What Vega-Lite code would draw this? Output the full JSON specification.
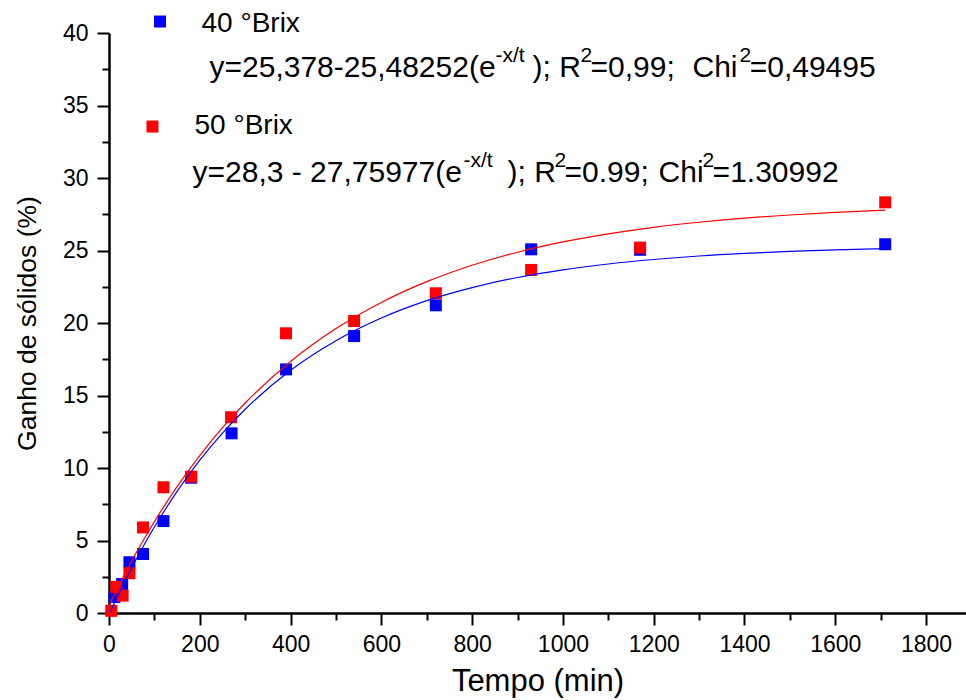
{
  "$schema": "https://vega.github.io/schema/vega-lite/v6.json",
  "width": 857,
  "height": 580,
  "autosize": {"type": "none"},
  "padding": {"left": 109, "top": 33, "right": 0, "bottom": 87},
  "background": "white",
  "config": {"view": {"stroke": null}, "font": "Liberation Sans"},
  "datasets": {
    "points": [
      {"serie": "40 °Brix", "t": 12, "g": 1.1},
      {"serie": "40 °Brix", "t": 29, "g": 2.0},
      {"serie": "40 °Brix", "t": 45, "g": 3.5},
      {"serie": "40 °Brix", "t": 75, "g": 4.07},
      {"serie": "40 °Brix", "t": 120, "g": 6.34},
      {"serie": "40 °Brix", "t": 181, "g": 9.33},
      {"serie": "40 °Brix", "t": 270, "g": 12.39},
      {"serie": "40 °Brix", "t": 390, "g": 16.8},
      {"serie": "40 °Brix", "t": 540, "g": 19.1},
      {"serie": "40 °Brix", "t": 720, "g": 21.22},
      {"serie": "40 °Brix", "t": 930, "g": 25.08},
      {"serie": "40 °Brix", "t": 1170, "g": 25.05},
      {"serie": "40 °Brix", "t": 1710, "g": 25.43},
      {"serie": "50 °Brix", "t": 5, "g": 0.15},
      {"serie": "50 °Brix", "t": 16, "g": 1.8},
      {"serie": "50 °Brix", "t": 30, "g": 1.2},
      {"serie": "50 °Brix", "t": 45, "g": 2.74},
      {"serie": "50 °Brix", "t": 75, "g": 5.9},
      {"serie": "50 °Brix", "t": 120, "g": 8.67},
      {"serie": "50 °Brix", "t": 181, "g": 9.4},
      {"serie": "50 °Brix", "t": 269, "g": 13.5},
      {"serie": "50 °Brix", "t": 390, "g": 19.29},
      {"serie": "50 °Brix", "t": 540, "g": 20.14},
      {"serie": "50 °Brix", "t": 720, "g": 22.05},
      {"serie": "50 °Brix", "t": 930, "g": 23.66},
      {"serie": "50 °Brix", "t": 1170, "g": 25.2},
      {"serie": "50 °Brix", "t": 1710, "g": 28.32}
    ],
    "curves": [
      {"serie": "40 °Brix", "t": 3, "g": 0.1},
      {"serie": "40 °Brix", "t": 25, "g": 1.56},
      {"serie": "40 °Brix", "t": 50, "g": 3.12},
      {"serie": "40 °Brix", "t": 75, "g": 4.57},
      {"serie": "40 °Brix", "t": 100, "g": 5.93},
      {"serie": "40 °Brix", "t": 150, "g": 8.39},
      {"serie": "40 °Brix", "t": 200, "g": 10.54},
      {"serie": "40 °Brix", "t": 250, "g": 12.41},
      {"serie": "40 °Brix", "t": 300, "g": 14.05},
      {"serie": "40 °Brix", "t": 400, "g": 16.74},
      {"serie": "40 °Brix", "t": 500, "g": 18.78},
      {"serie": "40 °Brix", "t": 600, "g": 20.34},
      {"serie": "40 °Brix", "t": 700, "g": 21.54},
      {"serie": "40 °Brix", "t": 800, "g": 22.44},
      {"serie": "40 °Brix", "t": 900, "g": 23.14},
      {"serie": "40 °Brix", "t": 1000, "g": 23.67},
      {"serie": "40 °Brix", "t": 1100, "g": 24.07},
      {"serie": "40 °Brix", "t": 1200, "g": 24.38},
      {"serie": "40 °Brix", "t": 1300, "g": 24.62},
      {"serie": "40 °Brix", "t": 1400, "g": 24.8},
      {"serie": "40 °Brix", "t": 1500, "g": 24.94},
      {"serie": "40 °Brix", "t": 1600, "g": 25.04},
      {"serie": "40 °Brix", "t": 1710, "g": 25.13},
      {"serie": "50 °Brix", "t": 0, "g": 0.54},
      {"serie": "50 °Brix", "t": 25, "g": 2.11},
      {"serie": "50 °Brix", "t": 50, "g": 3.59},
      {"serie": "50 °Brix", "t": 75, "g": 4.98},
      {"serie": "50 °Brix", "t": 100, "g": 6.3},
      {"serie": "50 °Brix", "t": 150, "g": 8.72},
      {"serie": "50 °Brix", "t": 200, "g": 10.86},
      {"serie": "50 °Brix", "t": 250, "g": 12.78},
      {"serie": "50 °Brix", "t": 300, "g": 14.48},
      {"serie": "50 °Brix", "t": 400, "g": 17.35},
      {"serie": "50 °Brix", "t": 500, "g": 19.62},
      {"serie": "50 °Brix", "t": 600, "g": 21.42},
      {"serie": "50 °Brix", "t": 700, "g": 22.85},
      {"serie": "50 °Brix", "t": 800, "g": 23.98},
      {"serie": "50 °Brix", "t": 900, "g": 24.88},
      {"serie": "50 °Brix", "t": 1000, "g": 25.59},
      {"serie": "50 °Brix", "t": 1100, "g": 26.15},
      {"serie": "50 °Brix", "t": 1200, "g": 26.6},
      {"serie": "50 °Brix", "t": 1300, "g": 26.95},
      {"serie": "50 °Brix", "t": 1400, "g": 27.23},
      {"serie": "50 °Brix", "t": 1500, "g": 27.45},
      {"serie": "50 °Brix", "t": 1600, "g": 27.63},
      {"serie": "50 °Brix", "t": 1710, "g": 27.78}
    ],
    "legend": [
      {"serie": "40 °Brix", "t": 112.4, "g": 40.79},
      {"serie": "50 °Brix", "t": 95.8, "g": 33.55}
    ],
    "legendLabels": [
      {"t": 203.8, "g": 40.07, "txt": "40  °Brix"},
      {"t": 188.4, "g": 33.03, "txt": "50  °Brix"}
    ],
    "labels": [
      {"t": 221.4, "g": 36.97, "txt": "y=25,378-25,48252(e"},
      {"t": 933.0, "g": 36.97, "txt": "); R"},
      {"t": 1060.8, "g": 36.97, "txt": "=0,99;"},
      {"t": 1285.5, "g": 36.97, "txt": "Chi"},
      {"t": 1411.5, "g": 36.97, "txt": "=0,49495"},
      {"t": 184.0, "g": 29.72, "txt": "y=28,3 - 27,75977(e"},
      {"t": 878.0, "g": 29.72, "txt": "); R"},
      {"t": 1003.6, "g": 29.72, "txt": "=0.99;"},
      {"t": 1210.7, "g": 29.72, "txt": "Chi"},
      {"t": 1329.8, "g": 29.72, "txt": "=1.30992"}
    ],
    "sups": [
      {"t": 851.5, "g": 38.0, "txt": "-x/t"},
      {"t": 1038.8, "g": 38.0, "txt": "2"},
      {"t": 1389.0, "g": 38.0, "txt": "2"},
      {"t": 781.0, "g": 30.76, "txt": "-x/t"},
      {"t": 981.6, "g": 30.76, "txt": "2"},
      {"t": 1307.7, "g": 30.76, "txt": "2"}
    ]
  },
  "encoding": {
    "x": {
      "field": "t",
      "type": "quantitative",
      "scale": {"domain": [0, 1888], "nice": false, "zero": false},
      "axis": {
        "values": [0, 100, 200, 300, 400, 500, 600, 700, 800, 900, 1000, 1100, 1200, 1300, 1400, 1500, 1600, 1700, 1800],
        "format": "d",
        "labelExpr": "datum.value % 200 === 0 ? datum.label : ''",
        "tickSize": {"condition": {"test": "datum.value % 200 === 0", "value": 12}, "value": 7},
        "tickWidth": 2,
        "tickColor": "black",
        "domainWidth": 2.5,
        "domainColor": "black",
        "grid": false,
        "labelFontSize": 23,
        "labelColor": "black",
        "labelPadding": 8,
        "labelFlush": false,
        "title": "Tempo (min)",
        "titleFontSize": 31,
        "titleFontWeight": "normal",
        "titleColor": "black",
        "titlePadding": 10
      }
    },
    "y": {
      "field": "g",
      "type": "quantitative",
      "scale": {"domain": [0, 40], "nice": false},
      "axis": {
        "values": [0, 2.5, 5, 7.5, 10, 12.5, 15, 17.5, 20, 22.5, 25, 27.5, 30, 32.5, 35, 37.5, 40],
        "labelExpr": "datum.value % 5 === 0 ? datum.label : ''",
        "tickSize": {"condition": {"test": "datum.value % 5 === 0", "value": 12}, "value": 7},
        "tickWidth": 2,
        "tickColor": "black",
        "domainWidth": 2.5,
        "domainColor": "black",
        "grid": false,
        "labelFontSize": 23,
        "labelColor": "black",
        "labelPadding": 9,
        "title": "Ganho de sólidos (%)",
        "titleFontSize": 26.5,
        "titleFontWeight": "normal",
        "titleColor": "black",
        "titlePadding": 21
      }
    }
  },
  "layer": [
    {
      "data": {"name": "points"},
      "mark": {"type": "point", "shape": "square", "filled": true, "size": 144, "opacity": 1, "clip": false},
      "encoding": {
        "color": {"field": "serie", "type": "nominal", "scale": {"domain": ["40 °Brix", "50 °Brix"], "range": ["#0000ff", "#ff0000"]}, "legend": null}
      }
    },
    {
      "data": {"name": "curves"},
      "mark": {"type": "line", "interpolate": "monotone", "strokeWidth": 1.2},
      "encoding": {
        "color": {"field": "serie", "type": "nominal", "legend": null}
      }
    },
    {
      "data": {"name": "legend"},
      "mark": {"type": "point", "shape": "square", "filled": true, "size": 144, "opacity": 1, "clip": false},
      "encoding": {
        "color": {"field": "serie", "type": "nominal", "legend": null}
      }
    },
    {
      "data": {"name": "legendLabels"},
      "mark": {"type": "text", "align": "left", "baseline": "alphabetic", "fontSize": 28, "color": "black", "clip": false},
      "encoding": {"text": {"field": "txt"}}
    },
    {
      "data": {"name": "labels"},
      "mark": {"type": "text", "align": "left", "baseline": "alphabetic", "fontSize": 30, "color": "black", "clip": false},
      "encoding": {"text": {"field": "txt"}}
    },
    {
      "data": {"name": "sups"},
      "mark": {"type": "text", "align": "left", "baseline": "alphabetic", "fontSize": 21, "color": "black", "clip": false},
      "encoding": {"text": {"field": "txt"}}
    }
  ]
}
